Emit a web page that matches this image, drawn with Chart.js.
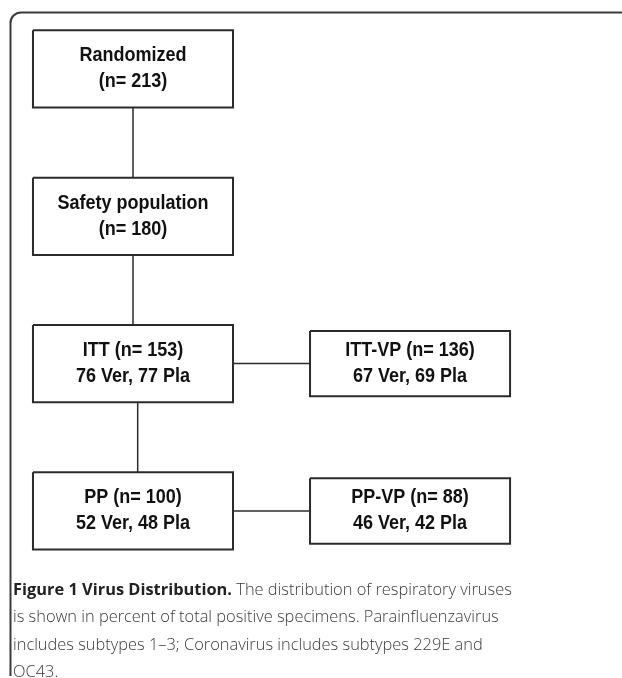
<!DOCTYPE html>
<html>
<head>
<meta charset="utf-8">
<script src="https://cdn.jsdelivr.net/npm/chart.js@4"></script>
<style>
  body { margin: 0; background: #fff; }
  #wrap { position: relative; width: 622px; height: 678px; overflow: hidden; }
  #flow { position: absolute; left: 0; top: 0; }
  #caption {
    position: absolute; left: 13px; top: 575px; width: 510px;
    font-family: "Open Sans", sans-serif; font-size: 16.4px; font-weight: 300;
    line-height: 27.3px; color: #3a3a3a;
  }
  #caption b { font-weight: 700; color: #222; }
</style>
</head>
<body>
<div id="wrap">
  <canvas id="flow" width="622" height="678"></canvas>
  <div id="caption"><b>Figure 1 Virus Distribution.</b> The distribution of respiratory viruses is shown in percent of total positive specimens. Parainfluenzavirus includes subtypes 1–3; Coronavirus includes subtypes 229E and OC43.</div>
</div>
<script>
// main column of the flow, top to bottom
const stages = ['Randomized', 'Safety population', 'ITT', 'PP']
const stageN = [213, 180, 153, 100]
const stageVer = [null, null, 76, 52]
const stagePla = [null, null, 77, 48]

// side boxes (virus positive), attached to ITT and PP
const vpStages = ['ITT-VP', 'PP-VP']
const vpRow = [2, 3]
const vpN = [136, 88]
const vpVer = [67, 46]
const vpPla = [69, 42]

// layout (scale units: column index / row index)
const mainHalfW = 0.361, mainHalfH = 0.262
const sideHalfW = 0.361, sideHalfH = 0.222

function stageLines(name, n, ver, pla) {
  if (ver == null) return [name, '(n= ' + n + ')']
  return [name + ' (n= ' + n + ')', ver + ' Ver, ' + pla + ' Pla']
}

function rect(cx, cy, hw, hh) {
  return [
    {x: cx - hw, y: cy - hh}, {x: cx + hw, y: cy - hh},
    {x: cx + hw, y: cy + hh}, {x: cx - hw, y: cy + hh},
    {x: cx - hw, y: cy - hh}
  ]
}

let nodes = []
stages.forEach((s, i) => {
  nodes.push({col: 0, row: i, hw: mainHalfW, hh: mainHalfH, lines: stageLines(s, stageN[i], stageVer[i], stagePla[i])})
})
vpStages.forEach((s, i) => {
  nodes.push({col: 1, row: vpRow[i], hw: sideHalfW, hh: sideHalfH, lines: stageLines(s, vpN[i], vpVer[i], vpPla[i])})
})

let datasets = []
nodes.forEach(nd => {
  datasets.push({
    data: rect(nd.col, nd.row, nd.hw, nd.hh),
    showLine: true, borderColor: '#2b2b2b', borderWidth: 2,
    pointRadius: 0, fill: false, tension: 0
  })
})
// vertical connectors between main stages
for (let i = 0; i < stages.length - 1; i++) {
  let cx = i == 2 ? 0.017 : 0
  datasets.push({
    data: [{x: cx, y: i + mainHalfH}, {x: cx, y: i + 1 - mainHalfH}],
    showLine: true, borderColor: '#2b2b2b', borderWidth: 1.5, pointRadius: 0
  })
}
// horizontal connectors to side boxes
vpRow.forEach(r => {
  datasets.push({
    data: [{x: mainHalfW, y: r}, {x: 1 - sideHalfW, y: r}],
    showLine: true, borderColor: '#2b2b2b', borderWidth: 1.5, pointRadius: 0
  })
})

const boxText = {
  id: 'boxText',
  beforeDraw(chart) {
    const ctx = chart.ctx
    ctx.save()
    ctx.strokeStyle = '#3a3a3a'
    ctx.lineWidth = 2
    ctx.beginPath()
    ctx.moveTo(640, 12.5)
    ctx.lineTo(21, 12.5)
    ctx.arcTo(10.5, 12.5, 10.5, 23, 10.5)
    ctx.lineTo(10.5, 676)
    ctx.stroke()
    ctx.restore()
  },
  afterDatasetsDraw(chart) {
    const ctx = chart.ctx
    const xs = chart.scales.x, ys = chart.scales.y
    ctx.save()
    ctx.fillStyle = '#111'
    ctx.font = 'bold 20px "Liberation Sans", Arial, sans-serif'
    ctx.textAlign = 'center'
    ctx.textBaseline = 'middle'
    nodes.forEach(nd => {
      const px = xs.getPixelForValue(nd.col)
      const py = ys.getPixelForValue(nd.row)
      nd.lines.forEach((t, k) => {
        ctx.save()
        ctx.translate(px, py + (k == 0 ? -13 : 13))
        ctx.scale(0.9, 1)
        ctx.fillText(t, 0, 0)
        ctx.restore()
      })
    })
    ctx.restore()
  }
}

new Chart(document.getElementById('flow'), {
  type: 'scatter',
  data: { datasets: datasets },
  options: {
    responsive: false,
    animation: false,
    layout: { padding: 0 },
    plugins: { legend: { display: false }, tooltip: { enabled: false } },
    scales: {
      x: { type: 'linear', display: false, min: -0.480, max: 1.765 },
      y: { type: 'linear', display: false, reverse: true, min: -0.468, max: 4.134 }
    }
  },
  plugins: [boxText]
})
</script>
</body>
</html>
